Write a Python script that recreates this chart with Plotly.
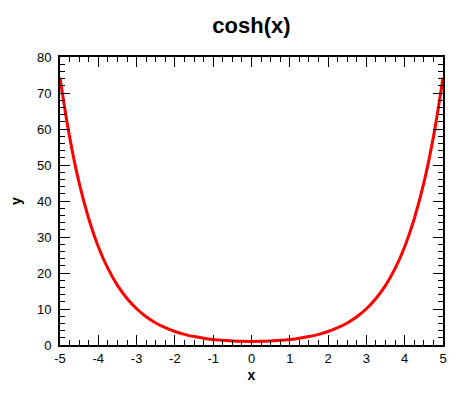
import plotly.graph_objects as go

x_vals = [-5, -4.75, -4.5, -4.25, -4, -3.75, -3.5, -3.25, -3, -2.75, -2.5, -2.25, -2,
          -1.75, -1.5, -1.25, -1, -0.75, -0.5, -0.25, 0, 0.25, 0.5, 0.75, 1, 1.25, 1.5,
          1.75, 2, 2.25, 2.5, 2.75, 3, 3.25, 3.5, 3.75, 4, 4.25, 4.5, 4.75, 5]
y_vals = [74.21, 57.81, 45.01, 35.08, 27.31, 21.27, 16.57, 12.91, 10.07, 7.85, 6.13, 4.80, 3.76,
          2.96, 2.35, 1.89, 1.54, 1.29, 1.13, 1.03, 1.00, 1.03, 1.13, 1.29, 1.54, 1.89, 2.35,
          2.96, 3.76, 4.80, 6.13, 7.85, 10.07, 12.91, 16.57, 21.27, 27.31, 35.08, 45.01, 57.81, 74.21]

x_tickvals = [-5, -4, -3, -2, -1, 0, 1, 2, 3, 4, 5]
x_ticktext = ["-5", "-4", "-3", "-2", "-1", "0", "1", "2", "3", "4", "5"]
y_tickvals = [0, 10, 20, 30, 40, 50, 60, 70, 80]
y_ticktext = ["0", "10", "20", "30", "40", "50", "60", "70", "80"]

title_text = "cosh(x)"
x_label = "x"
y_label = "y"

FONT = "Liberation Sans, Arial, sans-serif"

fig = go.Figure()
fig.add_trace(go.Scatter(x=x_vals, y=y_vals, mode="lines",
                         line=dict(color="#ff0000", width=3, shape="spline"),
                         showlegend=False, hoverinfo="skip"))

axis_common = dict(
    showline=True, linecolor="black", linewidth=2, mirror="allticks",
    ticks="inside", ticklen=10, tickwidth=1, tickcolor="black",
    showgrid=False, zeroline=False, automargin=False,
    tickfont=dict(family=FONT, size=13, color="black"),
)

# page body has an 8px default margin, so the figure is sized to fit the 463x399 window
fig.update_layout(
    width=455, height=391,
    margin=dict(l=52, r=20, t=49, b=54),
    paper_bgcolor="white", plot_bgcolor="white",
    title=dict(text="<b>" + title_text + "</b>", x=0.535, xanchor="center", y=0.955, yanchor="middle",
               font=dict(family=FONT, size=22, color="black")),
    xaxis=dict(range=[-5, 5], tickmode="array", tickvals=x_tickvals, ticktext=x_ticktext,
               minor=dict(ticks="inside", ticklen=5, tickwidth=1, tickcolor="black", tick0=-5, dtick=0.25, showgrid=False),
               title=dict(text="<b>" + x_label + "</b>", font=dict(family=FONT, size=14, color="black"), standoff=6),
               **axis_common),
    yaxis=dict(range=[0, 80], tickmode="array", tickvals=y_tickvals, ticktext=y_ticktext,
               minor=dict(ticks="inside", ticklen=5, tickwidth=1, tickcolor="black", tick0=0, dtick=2, showgrid=False),
               ticklabelstandoff=4,
               title=dict(text="<b>" + y_label + "</b>", font=dict(family=FONT, size=14, color="black"), standoff=14),
               **axis_common),
)

fig.write_html("out.html")
